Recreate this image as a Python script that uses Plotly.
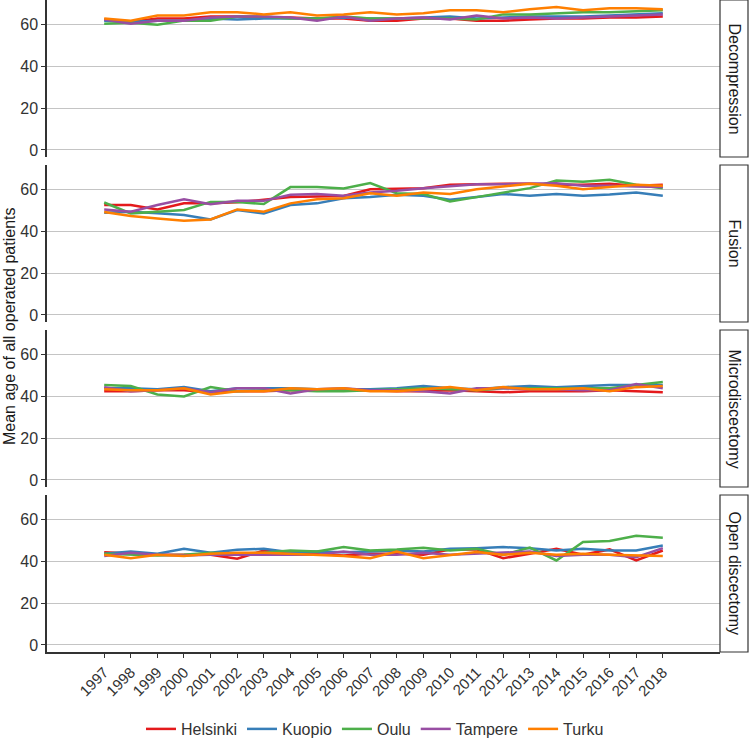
import plotly.graph_objects as go
from plotly.subplots import make_subplots

years = list(range(1997, 2019))
hospitals = ["Helsinki", "Kuopio", "Oulu", "Tampere", "Turku"]
colors = ["#E41A1C", "#377EB8", "#4DAF4A", "#984EA3", "#FF7F00"]
procedures = ["Decompression", "Fusion", "Microdiscectomy", "Open discectomy"]

decompression = {
    "Helsinki": [62.5, 61.5, 63, 63, 64, 64, 63.5, 63.5, 63, 63, 62, 62, 63, 63, 62, 62, 62.5, 63, 63, 63.5, 63.5, 64],
    "Kuopio":   [62, 61.5, 62, 62, 63, 62.5, 63, 63, 63, 63.5, 63, 63, 63.5, 64, 63, 63.5, 64, 64, 64, 64.5, 65, 65.5],
    "Oulu":     [60.5, 61, 60, 62, 62, 64, 64, 63, 63, 64, 63, 63, 63, 63, 62.5, 65, 65, 65.5, 66, 66, 66.5, 67],
    "Tampere":  [62.5, 60.5, 62, 62, 63.5, 64, 64, 63.5, 62, 64, 62, 63, 63.5, 62.5, 64.5, 63, 63.5, 63, 63.5, 64, 64.5, 65],
    "Turku":    [63, 62, 64.5, 64.5, 66, 66, 65, 66, 64.5, 65, 66, 65, 65.5, 67, 67, 66, 67.5, 68.5, 67, 68, 68, 67.5],
}
fusion = {
    "Helsinki": [52.7, 52.7, 50.6, 53.5, 53.5, 54, 55.2, 56.5, 56.8, 57, 60.3, 60.5, 60.8, 62.4, 62.7, 62.9, 62.9, 62.4, 62.4, 62.9, 62, 62.4],
    "Kuopio":   [49, 49.5, 48.7, 47.9, 45.8, 50.3, 48.7, 52.7, 53.5, 56, 56.5, 57.6, 57.1, 55.2, 56.6, 58, 57.1, 58, 57.1, 57.7, 58.7, 57.1],
    "Oulu":     [53.9, 48.7, 49.5, 50.3, 54.2, 54.2, 53.2, 61.3, 61.3, 60.6, 63.2, 58.4, 58, 54.4, 56.5, 58.7, 60.8, 64.5, 63.9, 64.8, 62.4, 60.8],
    "Tampere":  [50.6, 49.5, 52.7, 55.5, 53.1, 54.8, 54.7, 57.6, 58, 57.1, 58.7, 59.5, 60.8, 61.6, 62.7, 62.7, 62.9, 63.2, 62, 62, 61.6, 61.3],
    "Turku":    [49.4, 47.4, 46.3, 45.2, 45.8, 50.6, 49.5, 53.5, 55.5, 56, 58.4, 57.1, 58.7, 58, 60.3, 61.6, 62.9, 62, 60.3, 61.3, 62.4, 62],
}
microdiscectomy = {
    "Helsinki": [42.5, 42.5, 43, 43, 42, 42.5, 42.5, 43, 43, 43, 43, 42.5, 42.5, 43, 42.5, 42, 42.5, 42.5, 42.5, 43, 42.5, 42],
    "Kuopio":   [44, 44, 43.5, 44.5, 42.5, 44, 44, 44, 43.5, 43.5, 43.5, 44, 45, 44, 43.5, 44.5, 45, 44.5, 45, 45.5, 45.5, 45.5],
    "Oulu":     [45.5, 45, 41, 40, 44.5, 42.5, 43, 43, 42.5, 42.5, 43, 43.5, 44, 43.5, 43, 44, 44, 44, 44, 44, 45.5, 47],
    "Tampere":  [44.5, 42.5, 43, 44, 42, 44, 44, 41.5, 43.5, 44, 43, 43, 42.5, 41.5, 44, 44, 43.5, 43.5, 43, 43, 46, 44],
    "Turku":    [43.5, 43, 43, 44, 41, 42.5, 42.5, 44, 43.5, 44, 42.5, 42.5, 43.5, 44.5, 43, 44.5, 43.5, 43.5, 44, 42.5, 44.5, 45],
}
open_discectomy = {
    "Helsinki": [44.5, 43.7, 43.2, 43.2, 43.2, 41.3, 45.3, 44.5, 43.7, 42.9, 43.7, 43.7, 43.2, 45.8, 45.8, 41.6, 43.7, 46.1, 43.2, 45.8, 40.5, 45.3],
    "Kuopio":   [43.7, 44.8, 43.7, 46.1, 44.2, 45.6, 46.1, 44.5, 44.8, 44.5, 44.8, 45.3, 44.8, 46.1, 46.4, 46.9, 46.4, 45.3, 46.1, 45.3, 45.3, 47.7],
    "Oulu":     [43.7, 43.2, 42.9, 43.2, 44.2, 43.7, 44.2, 45.3, 44.8, 46.9, 45.3, 45.8, 46.6, 45.3, 46.1, 43.2, 46.7, 40.5, 49.4, 49.8, 52.3, 51.4],
    "Tampere":  [42.6, 44.2, 43.2, 42.9, 43.2, 43.2, 43.2, 42.9, 43.2, 44.8, 43.2, 43.2, 44.2, 43.2, 43.7, 44.2, 44.8, 42.6, 43.2, 43.2, 42.1, 46.4],
    "Turku":    [43.2, 41.6, 43.2, 42.6, 43.7, 44.2, 44.2, 43.7, 42.9, 42.6, 41.6, 44.8, 41.6, 43.2, 44.5, 43.2, 44.2, 43.2, 43.7, 43.2, 42.9, 42.6],
}
panel_data = [decompression, fusion, microdiscectomy, open_discectomy]

W, H = 749, 741
mL, mR, mT, mB = 47, 29, 0, 89
plot_h = H - mT - mB
plot_w = W - mL - mR
gap = 8

fig = make_subplots(rows=4, cols=1, shared_xaxes=True, vertical_spacing=gap / plot_h)

for r, data in enumerate(panel_data, start=1):
    for h, c in zip(hospitals, colors):
        fig.add_trace(go.Scatter(
            x=years, y=data[h], mode="lines", name=h,
            line=dict(color=c, width=2.5),
            legendgroup=h, showlegend=(r == 1),
        ), row=r, col=1)

text_col = "#333333"
for r in range(1, 5):
    fig.update_yaxes(
        range=[-3.4, 71.9], tickvals=[0, 20, 40, 60], showgrid=True,
        gridcolor="#c4c4c4", gridwidth=1, zeroline=False,
        showline=True, linecolor="#333333", linewidth=1.5,
        ticks="outside", ticklen=4, tickcolor="#333333", tickwidth=1,
        tickfont=dict(size=16, color=text_col), automargin=False, row=r, col=1)
    fig.update_xaxes(
        range=[1994.85, 2020.15], showgrid=False, zeroline=False,
        tickvals=years, ticktext=[str(y) for y in years], automargin=False,
        row=r, col=1)
fig.update_xaxes(showticklabels=False, ticks="", showline=False)
fig.update_xaxes(
    showticklabels=True, tickangle=-45, ticks="outside", ticklen=4,
    tickcolor="#333333", showline=True, linecolor="#333333", linewidth=1.5,
    tickfont=dict(size=15, color=text_col), row=4, col=1)

# facet strips
shapes = []
annotations = []
panel_h = (plot_h - 3 * gap) / 4
for i, name in enumerate(procedures):
    top_px = i * (panel_h + gap)
    bot_px = top_px + panel_h
    y1 = 1 - top_px / plot_h
    y0 = 1 - bot_px / plot_h
    shapes.append(dict(type="rect", xref="paper", yref="paper",
                       x0=1.0, x1=1 + 28 / plot_w, y0=y0, y1=y1,
                       line=dict(color="#333333", width=1.2), fillcolor="white"))
    annotations.append(dict(text=name, xref="paper", yref="paper",
                            x=1 + 14 / plot_w, y=(y0 + y1) / 2, showarrow=False,
                            textangle=90, font=dict(size=16, color="#1a1a1a"),
                            xanchor="center", yanchor="middle"))

annotations.append(dict(text="Mean age of all operated patients", xref="paper", yref="paper",
                        x=-38 / plot_w, y=0.5, showarrow=False, textangle=-90,
                        font=dict(size=16, color="#1a1a1a"),
                        xanchor="center", yanchor="middle"))

fig.update_layout(
    width=W, height=H,
    margin=dict(l=mL, r=mR, t=mT, b=mB, autoexpand=False),
    paper_bgcolor="white", plot_bgcolor="white",
    font=dict(family="Liberation Sans, Arial, sans-serif", color=text_col),
    shapes=shapes, annotations=annotations,
    legend=dict(orientation="h", x=(375 - mL) / plot_w, xanchor="center",
                y=-(729 - plot_h) / plot_h, yanchor="middle",
                font=dict(size=16, color=text_col), itemwidth=30,
                tracegroupgap=0),
)

fig.write_html("out.html", config={"displayModeBar": False},
               post_script="document.body.style.margin='0px';document.body.style.overflow='hidden';")
